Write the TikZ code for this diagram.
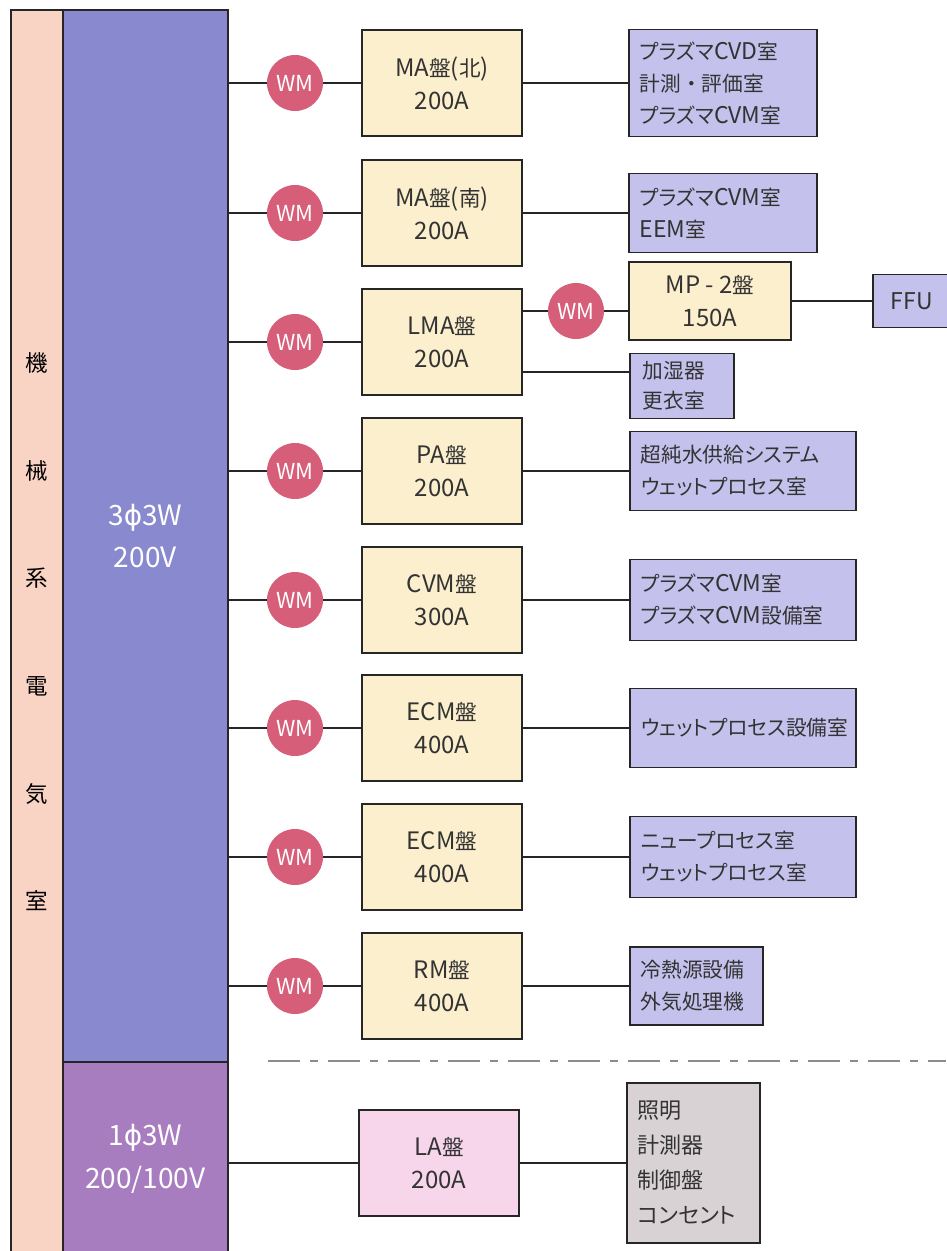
\documentclass[tikz,border=0pt]{standalone}
\usepackage{fontspec}
\setmainfont{Noto Sans CJK JP}
\newfontfamily\cjkfont{Noto Sans CJK JP}[Scale=0.9, RawFeature={+palt}]
\newfontfamily\symfont{DejaVu Sans}
\usepackage{xcolor}
\usetikzlibrary{positioning}

% kana and kanji a little smaller than the latin text
\XeTeXinterchartokenstate=1
\newXeTeXintercharclass\kanjiclass
\newcount\charcnt
\charcnt="3000
\loop \XeTeXcharclass\charcnt=\kanjiclass \ifnum\charcnt<"30FF \advance\charcnt by 1 \repeat
\charcnt="4E00
\loop \XeTeXcharclass\charcnt=\kanjiclass \ifnum\charcnt<"9FFF \advance\charcnt by 1 \repeat
\XeTeXinterchartoks 0 \kanjiclass = {\begingroup\cjkfont}
\XeTeXinterchartoks 4095 \kanjiclass = {\begingroup\cjkfont}
\XeTeXinterchartoks \kanjiclass 0 = {\endgroup}
\XeTeXinterchartoks \kanjiclass 4095 = {\endgroup}

\newcommand{\ph}{{\symfont ϕ}}
\newcommand{\dotsep}{\hspace{5pt}・\hspace{5pt}}

\definecolor{roomcol}{RGB}{249,211,196}
\definecolor{buscol}{RGB}{137,137,207}
\definecolor{buslow}{RGB}{168,125,192}
\definecolor{wmcol}{RGB}{214,94,121}
\definecolor{panelcol}{RGB}{252,239,206}
\definecolor{loadcol}{RGB}{196,193,236}
\definecolor{lapanel}{RGB}{247,214,236}
\definecolor{misccol}{RGB}{217,210,213}

\begin{document}
\begin{tikzpicture}[
    x=1pt, y=-1pt,
    outline/.style={draw=black!85, line width=1.7pt},
    wire/.style={draw=black!85, line width=1.7pt},
    column/.style={outline, anchor=north west, inner sep=0pt, align=center},
    meter/.style={circle, fill=wmcol, minimum size=56pt, inner sep=0pt, text=white, font=\fontsize{22}{22}\selectfont},
    panel/.style={outline, fill=panelcol, minimum width=160pt, minimum height=106pt, align=center, text=black!80, font=\fontsize{24}{33}\selectfont},
    load/.style={outline, fill=loadcol, anchor=west, align=left, inner xsep=11pt, text=black!80, font=\fontsize{23}{32}\selectfont},
  ]
    \useasboundingbox (0,0) rectangle (946,1251);

    % feeder columns
    \node[column, fill=roomcol, minimum width=52pt, minimum height=1244pt, font=\fontsize{25}{107.6}\selectfont] (room) at (10,9)
      {機\\械\\系\\電\\気\\室};
    \node[column, fill=buscol, minimum width=165pt, minimum height=1052pt, text=white, font=\fontsize{28}{42}\selectfont] (bus3) at (62,9)
      {3\ph3W\\200V};
    \node[column, fill=buslow, minimum width=165pt, minimum height=195pt, text=white, font=\fontsize{28}{43}\selectfont] (bus1) at (62,1061)
      {1\ph3W\\200/100V};

    % meters
    \node[meter] (wm1) at (295,83) {WM};
    \node[meter] (wm2) at (295,213) {WM};
    \node[meter] (wm3) at (295,342) {WM};
    \node[meter] (wm4) at (295,471) {WM};
    \node[meter] (wm5) at (295,600) {WM};
    \node[meter] (wm6) at (295,728) {WM};
    \node[meter] (wm7) at (295,857) {WM};
    \node[meter] (wm8) at (295,986) {WM};
    \node[meter] (wmlm) at (576,311) {WM};

    % distribution panels
    \node[panel] (ma1) at (442,83) {MA盤(北)\\200A};
    \node[panel] (ma2) at (442,213) {MA盤(南)\\200A};
    \node[panel] (lma) at (442,342) {LMA盤\\200A};
    \node[panel] (pa) at (442,471) {PA盤\\200A};
    \node[panel] (cvm) at (442,600) {CVM盤\\300A};
    \node[panel] (ecm1) at (442,728) {ECM盤\\400A};
    \node[panel] (ecm2) at (442,857) {ECM盤\\400A};
    \node[panel] (rm) at (442,986) {RM盤\\400A};
    \node[panel, minimum width=162pt, minimum height=78pt] (mp2) at (710,301) {MP - 2盤\\150A};
    \node[panel, fill=lapanel] (la) at (439,1163) {LA盤\\200A};

    % loads
    \node[load, text width=166pt, minimum height=107pt] (ld1) at (628,83)
      {プラズマCVD室\\計測\dotsep 評価室\\プラズマCVM室};
    \node[load, text width=166pt, minimum height=79pt] (ld2) at (628,213)
      {プラズマCVM室\\EEM室};
    \node[load, align=center, minimum width=78pt, minimum height=53pt, right=80pt of mp2] (ffu) {FFU};
    \node[load, text width=78pt, minimum height=65pt, inner xsep=13pt, font=\fontsize{23}{30}\selectfont] (hum) at (629,386)
      {加湿器\\更衣室};
    \node[load, text width=204pt, minimum height=79pt] (ld4) at (629,471)
      {超純水供給システム\\ウェットプロセス室};
    \node[load, text width=204pt, minimum height=81pt] (ld5) at (629,600)
      {プラズマCVM室\\プラズマCVM設備室};
    \node[load, text width=204pt, minimum height=79pt] (ld6) at (629,728)
      {ウェットプロセス設備室};
    \node[load, text width=204pt, minimum height=81pt] (ld7) at (629,857)
      {ニュープロセス室\\ウェットプロセス室};
    \node[load, text width=111pt, minimum height=78pt] (ld8) at (629,986)
      {冷熱源設備\\外気処理機};
    \node[load, fill=misccol, text width=111pt, minimum height=160pt, font=\fontsize{24.5}{35}\selectfont] (misc) at (626,1163)
      {照明\\計測器\\制御盤\\コンセント};

    % wiring
    \draw[wire] (bus3.east |- wm1) -- (wm1) -- (ma1) -- (ld1);
    \draw[wire] (bus3.east |- wm2) -- (wm2) -- (ma2) -- (ld2);
    \draw[wire] (bus3.east |- wm3) -- (wm3) -- (lma);
    \draw[wire] (lma.east |- wmlm) -- (wmlm) -- (wmlm -| mp2.west);
    \draw[wire] (mp2) -- (ffu);
    \draw[wire] (lma.east |- 0,372) -- (hum.west |- 0,372);
    \draw[wire] (bus3.east |- wm4) -- (wm4) -- (pa) -- (ld4);
    \draw[wire] (bus3.east |- wm5) -- (wm5) -- (cvm) -- (ld5);
    \draw[wire] (bus3.east |- wm6) -- (wm6) -- (ecm1) -- (ld6);
    \draw[wire] (bus3.east |- wm7) -- (wm7) -- (ecm2) -- (ld7);
    \draw[wire] (bus3.east |- wm8) -- (wm8) -- (rm) -- (ld8);
    \draw[wire] (bus1.east |- la) -- (la) -- (misc);

    % separator
    \draw[black!45, line width=1.3pt, dash pattern=on 32pt off 10pt on 8pt off 10pt] (268,1061) -- (946,1061);
\end{tikzpicture}
\end{document}
